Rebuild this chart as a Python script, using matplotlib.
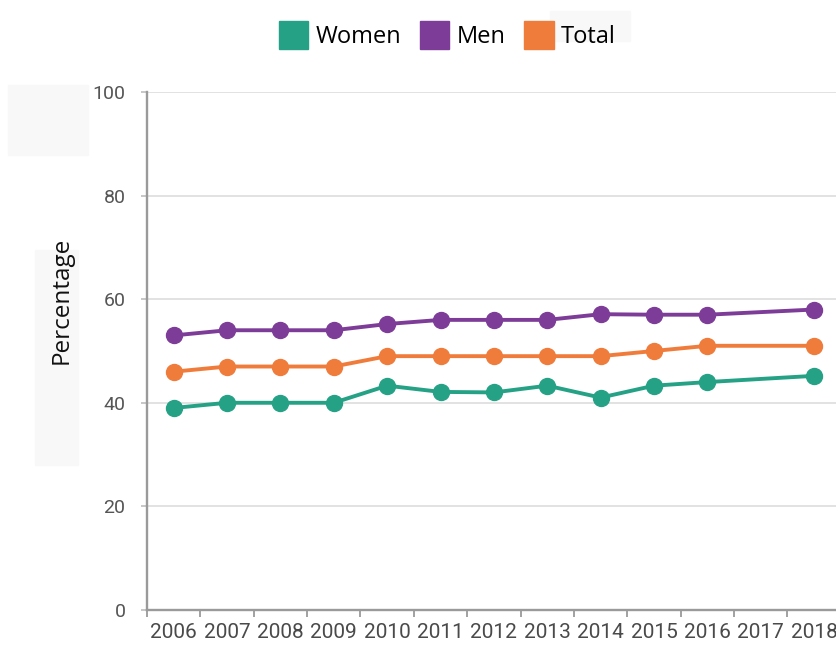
import matplotlib.pyplot as plt
from matplotlib.patches import Patch, Rectangle
from matplotlib.ticker import MultipleLocator

# survey years (no data for 2017)
years = [2006, 2007, 2008, 2009, 2010, 2011, 2012, 2013, 2014, 2015, 2016, 2018]
all_years = list(range(2006, 2019))

women = [39, 40, 40, 40, 43.3, 42.1, 42, 43.3, 41, 43.3, 44, 45.2]
men = [53, 54, 54, 54, 55.2, 56, 56, 56, 57.1, 57, 57, 58]
total = [46, 47, 47, 47, 49, 49, 49, 49, 49, 50, 51, 51]

series_names = ['Women', 'Men', 'Total']
colors = ['#25a285', '#7d3c98', '#f07c3c']

fig = plt.figure(figsize=(8.36, 6.46), dpi=100)
ax = fig.add_axes([0.1758, 0.0557, 0.830, 0.802])

# faint boxes in the left margin and behind the last legend entry
for x0, y0, w, h in [(8, 85, 80, 70), (35, 250, 43, 215), (550, 11, 80, 30)]:
    fig.patches.append(Rectangle((x0 / 836, 1 - (y0 + h) / 646), w / 836, h / 646,
                                 transform=fig.transFigure, color='#f8f8f8',
                                 zorder=-5))

for vals, c in zip([women, men, total], colors):
    ax.plot(years, vals, color=c, lw=2.8, marker='o', markersize=11.5,
            solid_joinstyle='round', zorder=3)

ax.set_ylim(0, 100)
ax.set_xlim(2005.5, 2018.5)
ax.set_yticks(range(0, 101, 20))
ax.set_xticks(all_years)
ax.set_xticklabels([str(y) for y in all_years])
ax.xaxis.set_minor_locator(MultipleLocator(1, offset=0.5))

ax.yaxis.grid(True, color='#e2e2e2', lw=1.4)
ax.set_axisbelow(True)

for s in ['top', 'right']:
    ax.spines[s].set_visible(False)
for s in ['left', 'bottom']:
    ax.spines[s].set_color('#9a9a9a')
    ax.spines[s].set_linewidth(1.7)

ax.tick_params(axis='y', length=4.5, width=1.2, color='#bdbdbd', pad=11,
               labelsize=14, labelcolor='#555555')
ax.tick_params(axis='x', which='major', length=0, pad=9,
               labelsize=15, labelcolor='#4a4a4a')
ax.tick_params(axis='x', which='minor', length=5, width=1.3, color='#9a9a9a')
for lab in ax.get_xticklabels() + ax.get_yticklabels():
    lab.set_fontfamily('Roboto')

ax.set_ylabel('Percentage', fontsize=17.5, family='Open Sans', color='#111111')
ax.yaxis.set_label_coords(-0.106, 0.598)

handles = [Patch(facecolor=c, edgecolor=c, label=n) for n, c in zip(series_names, colors)]
fig.legend(handles=handles, loc='upper center', bbox_to_anchor=(0.535, 1.0),
           ncol=3, frameon=False, handlelength=1.25, handleheight=1.45,
           handletextpad=0.3, columnspacing=0.8,
           prop={'family': 'Open Sans', 'size': 17})

fig.savefig('out.png', dpi=100)
